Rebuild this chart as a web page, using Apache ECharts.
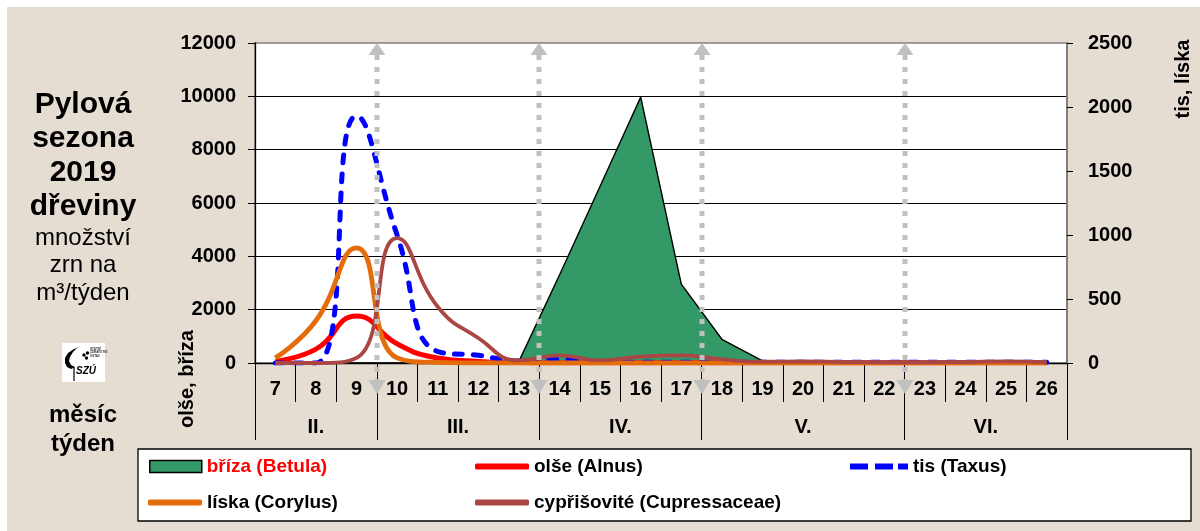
<!DOCTYPE html>
<html>
<head>
<meta charset="utf-8">
<script src="https://cdn.jsdelivr.net/npm/echarts@6/dist/echarts.min.js"></script>
<style>
  html, body { margin: 0; padding: 0; background: #ffffff; }
  #panel { position: absolute; left: 7px; top: 7px; width: 1193px; height: 524px; background: #E5DDD2; }
  #chart { position: absolute; left: 0; top: 0; width: 1200px; height: 531px; }
</style>
</head>
<body>
<div id="panel"></div>
<div id="chart"></div>
<script>
// Calendar weeks of the season (category axis)
const weeks = ['7','8','9','10','11','12','13','14','15','16','17','18','19','20','21','22','23','24','25','26'];
// Months and how many weeks each one spans
const months = ['II.', 'III.', 'IV.', 'V.', 'VI.'];
const monthWeekCounts = [3, 4, 4, 5, 4];

// Left axis: olše, bříza  (grains per m3 per week)
const briza = [0, 0, 0, 0, 0, 0, 60, 3300, 6630, 9970, 2960, 890, 80, 10, 5, 5, 5, 5, 5, 5];
const olse  = [70, 520, 1760, 720, 190, 60, 20, 10, 5, 5, 5, 5, 5, 5, 5, 5, 5, 5, 5, 5];
// Right axis: tis, líska (and cypřišovité)
const tis   = [0, 0, 1930, 1000, 90, 60, 15, 30, 10, 5, 5, 5, 5, 5, 5, 5, 5, 5, 5, 5];
const liska = [40, 330, 900, 40, 5, 0, 0, 0, 0, 0, 0, 0, 0, 0, 0, 0, 0, 0, 0, 0];
const cypr  = [0, 0, 40, 975, 440, 195, 20, 60, 20, 50, 60, 28, 10, 12, 8, 6, 6, 8, 12, 6];

// Axis ranges / ticks
const leftMax = 12000, leftStep = 2000;
const rightMax = 2500, rightStep = 500;

// Month edges and centres in week units along the secondary x axis
const monthEdges = [0];
monthWeekCounts.forEach(c => monthEdges.push(monthEdges[monthEdges.length - 1] + c));
const monthCenters = months.map((m, i) => (monthEdges[i] + monthEdges[i + 1]) / 2);
// Month boundaries marked with dotted arrows
const arrowEdges = monthEdges.slice(1, -1);

const FONT = "'Liberation Sans', Arial, sans-serif";
const chart = echarts.init(document.getElementById('chart'));

const boldText = { fontFamily: FONT, fontSize: 20, fontWeight: 'bold', color: '#000' };
const plain = v => String(v);

function legendBlock(name, left, top, icon, w, h, itemStyle, textColor) {
  return {
    show: true, left: left, top: top, padding: 0, orient: 'horizontal',
    selectedMode: false, itemWidth: w, itemHeight: h,
    data: [{ name: name, icon: icon, itemStyle: itemStyle, textStyle: { color: textColor } }],
    textStyle: Object.assign({}, boldText, { fontSize: 19 })
  };
}

const option = {
  backgroundColor: 'transparent',
  animation: false,
  textStyle: { fontFamily: FONT },
  grid: {
    left: 255, right: 133, top: 43, bottom: 168,
    containLabel: false, outerBoundsMode: 'none',
    show: true, backgroundColor: '#ffffff', borderColor: '#808080', borderWidth: 1.5
  },
  legend: [
    legendBlock('bříza (Betula)', 149, 457, 'rect', 52, 12,
      { color: '#339966', borderColor: '#000', borderWidth: 1.5 }, '#FF0000'),
    legendBlock('olše (Alnus)', 475, 457, 'roundRect', 54, 6,
      { color: '#FF0000', borderWidth: 0 }, '#000'),
    legendBlock('tis (Taxus)', 850, 457,
      'path://M0,0H18V6H0Z M25,0H43V6H25Z M48,0H58V6H48Z', 58, 6,
      { color: '#0000FF', borderWidth: 0 }, '#000'),
    legendBlock('líska (Corylus)', 148, 493, 'roundRect', 54, 6,
      { color: '#E46C0A', borderWidth: 0 }, '#000'),
    legendBlock('cypřišovité (Cupressaceae)', 475, 493, 'roundRect', 54, 6,
      { color: '#AA4643', borderWidth: 0 }, '#000')
  ],
  xAxis: [
    {
      type: 'category', data: weeks, position: 'bottom', boundaryGap: true,
      axisLine: { show: true, onZero: false, lineStyle: { color: '#000', width: 1.3 } },
      axisTick: { show: true, interval: 0, length: 39, lineStyle: { color: '#000', width: 1 } },
      axisLabel: Object.assign({ interval: 0, margin: 16 }, boldText),
      splitLine: { show: false }
    },
    {
      type: 'value', position: 'bottom', min: 0, max: monthEdges[monthEdges.length - 1],
      axisLine: { show: false },
      axisTick: { show: true, customValues: monthEdges, length: 77, lineStyle: { color: '#000', width: 1 } },
      axisLabel: Object.assign({
        customValues: monthCenters, margin: 54,
        formatter: v => { const i = monthCenters.indexOf(v); return i >= 0 ? months[i] : ''; }
      }, boldText),
      splitLine: { show: false }
    }
  ],
  yAxis: [
    {
      type: 'value', position: 'left', min: 0, max: leftMax, interval: leftStep,
      axisLine: { show: true, lineStyle: { color: '#000', width: 1.3 } },
      axisTick: { show: true, length: 7, lineStyle: { color: '#000', width: 1 } },
      axisLabel: Object.assign({ margin: 19, formatter: plain }, boldText),
      splitLine: { show: true, showMinLine: false, showMaxLine: false, lineStyle: { color: '#000', width: 1 } }
    },
    {
      type: 'value', position: 'right', min: 0, max: rightMax, interval: rightStep,
      axisLine: { show: true, lineStyle: { color: '#7F7F7F', width: 2 } },
      axisTick: { show: true, length: 6, lineStyle: { color: '#000', width: 1 } },
      axisLabel: Object.assign({ margin: 21, formatter: plain }, boldText),
      splitLine: { show: false }
    }
  ],
  series: [
    {
      name: 'bříza (Betula)', type: 'line', xAxisIndex: 0, yAxisIndex: 0, data: briza,
      symbol: 'none', smooth: false, z: 2,
      itemStyle: { color: '#339966' },
      lineStyle: { color: '#000', width: 1.4 },
      areaStyle: { color: '#339966', opacity: 1 },
      emphasis: { disabled: true }
    },
    {
      name: 'olše (Alnus)', type: 'line', xAxisIndex: 0, yAxisIndex: 0, data: olse,
      symbol: 'none', smooth: 0.5, z: 3,
      itemStyle: { color: '#FF0000' },
      lineStyle: { color: '#FF0000', width: 5 },
      emphasis: { disabled: true }
    },
    {
      name: 'tis (Taxus)', type: 'line', xAxisIndex: 0, yAxisIndex: 1, data: tis,
      symbol: 'none', smooth: 0.5, z: 4,
      itemStyle: { color: '#0000FF' },
      lineStyle: { color: '#0000FF', width: 5, type: [8, 11], cap: 'round' },
      emphasis: { disabled: true }
    },
    {
      name: 'líska (Corylus)', type: 'line', xAxisIndex: 0, yAxisIndex: 1, data: liska,
      symbol: 'none', smooth: 0.5, z: 5,
      itemStyle: { color: '#E46C0A' },
      lineStyle: { color: '#E46C0A', width: 4.8 },
      emphasis: { disabled: true }
    },
    {
      name: 'cypřišovité (Cupressaceae)', type: 'line', xAxisIndex: 0, yAxisIndex: 1, data: cypr,
      symbol: 'none', smooth: 0.5, z: 6,
      itemStyle: { color: '#AA4643' },
      lineStyle: { color: '#AA4643', width: 3.8 },
      emphasis: { disabled: true }
    }
  ]
};

chart.setOption(option);

// Decorations placed through the chart's own coordinate system
const yTop = chart.convertToPixel({ yAxisIndex: 0 }, leftMax);
const yZero = chart.convertToPixel({ yAxisIndex: 0 }, 0);
const GRAY = '#C0C0C0';
const arrows = [];
arrowEdges.forEach(edge => {
  const x = Math.round(chart.convertToPixel({ xAxisIndex: 1 }, edge));
  arrows.push({
    type: 'line', z: 100, silent: true,
    shape: { x1: x, y1: yTop + 12, x2: x, y2: yZero + 18 },
    style: { stroke: GRAY, lineWidth: 5, lineDash: [5, 7] }
  });
  arrows.push({
    type: 'polygon', z: 100, silent: true,
    shape: { points: [[x, yTop], [x - 8.5, yTop + 12], [x + 8.5, yTop + 12]] },
    style: { fill: GRAY }
  });
  arrows.push({
    type: 'polygon', z: 100, silent: true,
    shape: { points: [[x, yZero + 31], [x - 8.5, yZero + 17], [x + 8.5, yZero + 17]] },
    style: { fill: GRAY }
  });
});

const titleLines = ['Pylová', 'sezona', '2019', 'dřeviny'];
const subLines = ['množství', 'zrn na', 'm³/týden'];
const texts = [];
titleLines.forEach((t, i) => texts.push({
  type: 'text', x: 83, y: 105 + i * 34,
  style: { text: t, align: 'center', verticalAlign: 'middle', fill: '#000',
           font: 'bold 30px ' + FONT }
}));
subLines.forEach((t, i) => texts.push({
  type: 'text', x: 83, y: 238 + i * 27.5,
  style: { text: t, align: 'center', verticalAlign: 'middle', fill: '#000',
           font: '24px ' + FONT }
}));
['měsíc', 'týden'].forEach((t, i) => texts.push({
  type: 'text', x: 83, y: 415 + i * 29,
  style: { text: t, align: 'center', verticalAlign: 'middle', fill: '#000',
           font: 'bold 24px ' + FONT }
}));
// Axis titles, rotated
texts.push({
  type: 'text', x: 187, y: 379, rotation: Math.PI / 2,
  style: { text: 'olše, bříza', align: 'center', verticalAlign: 'middle', fill: '#000', font: 'bold 20px ' + FONT }
});
texts.push({
  type: 'text', x: 1183, y: 79, rotation: Math.PI / 2,
  style: { text: 'tis, líska', align: 'center', verticalAlign: 'middle', fill: '#000', font: 'bold 20px ' + FONT }
});

// Institute logo
const logo = {
  type: 'group', x: 62, y: 343, silent: true,
  children: [
    { type: 'rect', shape: { x: 0, y: 0, width: 43, height: 39 }, style: { fill: '#fff' } },
    { type: 'polygon', shape: { points: [[19, 3], [12, 6], [6, 10], [3, 15], [3, 20], [5, 24], [9, 26], [13, 24],
                                          [9, 22], [7, 18], [8, 14], [11, 9], [15, 5]] },
      style: { fill: '#000' } },
    { type: 'circle', shape: { cx: 22, cy: 12, r: 1.7 }, style: { fill: '#000' } },
    { type: 'circle', shape: { cx: 25.5, cy: 10, r: 1.7 }, style: { fill: '#000' } },
    { type: 'circle', shape: { cx: 24.5, cy: 15, r: 1.7 }, style: { fill: '#000' } },
    { type: 'text', x: 28, y: 4, style: { text: 'STÁTNÍ\nZDRAVOTNÍ\nÚSTAV', font: 'bold 3px ' + FONT, lineHeight: 3.6, fill: '#333' } },
    { type: 'line', shape: { x1: 12, y1: 24, x2: 12, y2: 38 }, style: { stroke: '#000', lineWidth: 1.2 } },
    { type: 'text', x: 14, y: 23, style: { text: 'SZÚ', font: 'italic bold 10px ' + FONT, fill: '#000' } }
  ]
};

// Legend frame
const legendFrame = {
  type: 'rect', z: 1, silent: true,
  shape: { x: 138, y: 449, width: 1053, height: 72 },
  style: { fill: '#ffffff', stroke: '#000', lineWidth: 1.3 }
};

chart.setOption({ graphic: [legendFrame, logo].concat(texts, arrows) });
</script>
</body>
</html>
